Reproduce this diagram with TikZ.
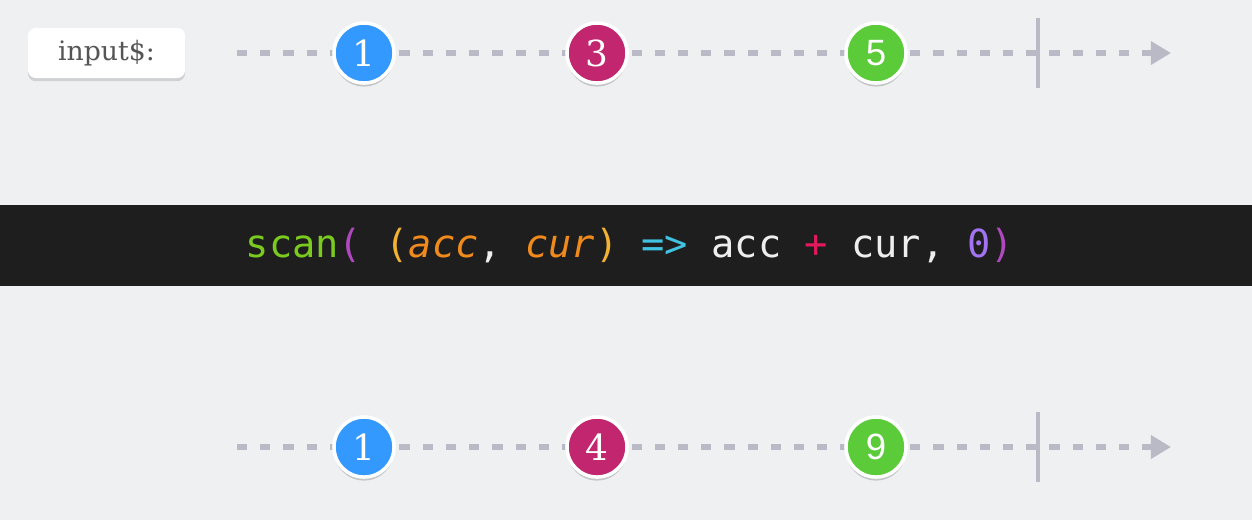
\documentclass[tikz,border=0pt]{standalone}
\usepackage{fontspec}
\usetikzlibrary{arrows.meta,shadows}
\newfontfamily\codefont{DejaVu Sans Mono}
\newfontfamily\slabfont{DejaVu Serif}
\newfontfamily\sansnum{Liberation Sans}
\definecolor{bg}{HTML}{EFF0F2}
\definecolor{band}{HTML}{1E1E1E}
\definecolor{dashgray}{HTML}{B9BAC6}
\definecolor{mblue}{HTML}{3399FF}
\definecolor{mmag}{HTML}{C2266F}
\definecolor{mgreen}{HTML}{5BCB3A}
\definecolor{cgreen}{HTML}{7BCB1E}
\definecolor{cpurple}{HTML}{B048C0}
\definecolor{cyellow}{HTML}{F2B233}
\definecolor{corange}{HTML}{F08A1C}
\definecolor{cwhite}{HTML}{EEEEEE}
\definecolor{ccyan}{HTML}{40C4E2}
\definecolor{cred}{HTML}{E2195C}
\definecolor{cviolet}{HTML}{A274F2}
\definecolor{labeltext}{HTML}{555555}
\tikzset{
  dashline/.style={draw=dashgray, line width=1.6pt, dash pattern=on 2.9pt off 3.7pt,
    -{Triangle[length=5.7pt,width=6.4pt]}},
  tick/.style={draw=dashgray, line width=1.3pt},
  marble/.style={circle, draw=white, line width=1pt, minimum size=0.6cm, inner sep=0pt,
    text=white, drop shadow={shadow xshift=0pt, shadow yshift=-1pt, opacity=0.18, fill=black}},
  serifnum/.style={font=\slabfont\fontsize{10.2}{12}\selectfont},
  sansn/.style={font=\sansnum\fontsize{10.4}{12}\selectfont},
  labelbox/.style={rounded corners=2.2pt, fill=white, minimum width=1.57cm, minimum height=0.5cm,
    text=labeltext, font=\slabfont\fontsize{7.6}{9}\selectfont,
    drop shadow={shadow xshift=0pt, shadow yshift=-0.9pt, opacity=0.35, fill=black!40}},
  code/.style={font=\codefont\fontsize{11}{13}\selectfont, inner sep=0pt}
}
\begin{document}
\begin{tikzpicture}[x=0.01cm, y=-0.01cm]
\fill[bg] (0,0) rectangle (1252,520);
\useasboundingbox (0,0) rectangle (1252,520);
\fill[band] (0,205) rectangle (1252,286);

% label
\node[labelbox] (lbl) at (106.5,53) {input\$:};

% top timeline
\coordinate (ts) at (237,53);
\coordinate (te) at (1171,53);
\draw[dashline] (ts) -- (te);
\coordinate (tt1) at (1038,18);
\coordinate (tt2) at (1038,88);
\draw[tick] (tt1) -- (tt2);
\node[marble, fill=mblue, serifnum] (a1) at (364,53) {1};
\node[marble, fill=mmag, serifnum] (a2) at (597,53) {3};
\node[marble, fill=mgreen, sansn] (a3) at (876,53) {5};

% code
\node[code] (code) at (630,246) {%
\textcolor{cgreen}{scan}\textcolor{cpurple}{(} \textcolor{cyellow}{(}\textcolor{corange}{\itshape acc}\textcolor{cwhite}{,} \textcolor{corange}{\itshape cur}\textcolor{cyellow}{)} \textcolor{ccyan}{=>} \textcolor{cwhite}{acc} \textcolor{cred}{+} \textcolor{cwhite}{cur,} \textcolor{cviolet}{0}\textcolor{cpurple}{)}};

% bottom timeline
\coordinate (bs) at (237,447);
\coordinate (be) at (1171,447);
\draw[dashline] (bs) -- (be);
\coordinate (bt1) at (1038,412);
\coordinate (bt2) at (1038,482);
\draw[tick] (bt1) -- (bt2);
\node[marble, fill=mblue, serifnum] (b1) at (364,447) {1};
\node[marble, fill=mmag, serifnum] (b2) at (597,447) {4};
\node[marble, fill=mgreen, sansn] (b3) at (876,447) {9};
\end{tikzpicture}
\end{document}
